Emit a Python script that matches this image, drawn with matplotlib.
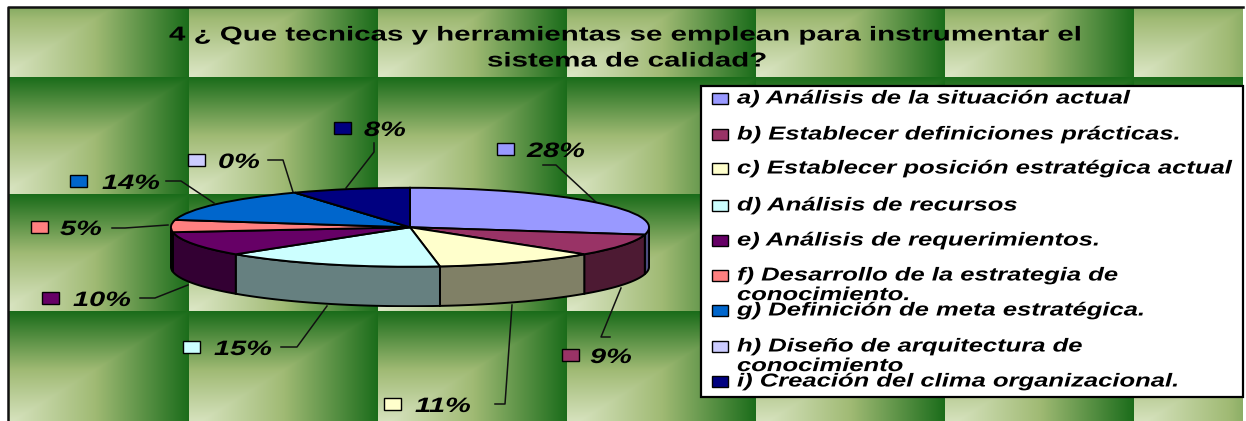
#!/usr/bin/env python3
import numpy as np
import matplotlib
matplotlib.use("Agg")
import matplotlib.pyplot as plt
from matplotlib.patches import Rectangle
from matplotlib.colors import to_rgb
from matplotlib.patheffects import AbstractPathEffect
from matplotlib.transforms import Affine2D

# chart data
title_lines = ["4 ¿ Que tecnicas y herramientas se emplean para instrumentar el",
               "sistema de calidad?"]
categories = ["a) Análisis de la situación actual",
              "b) Establecer definiciones prácticas.",
              "c) Establecer posición estratégica actual",
              "d) Análisis de recursos",
              "e) Análisis de requerimientos.",
              "f) Desarrollo de la estrategia de\nconocimiento.",
              "g) Definición de meta estratégica.",
              "h) Diseño de arquitectura de\nconocimiento",
              "i) Creación del clima organizacional."]
values = [28, 9, 11, 15, 10, 5, 14, 0, 8]
colors = ["#9999FF", "#993366", "#FFFFCC", "#CCFFFF", "#660066",
          "#FF8080", "#0066CC", "#CCCCFF", "#000080"]

W, H = 1246, 421
DPI = 100
FONT = "Liberation Sans"

# layout in pixels
cx, cy, rx, ry, depth = 410, 227, 240, 40, 40
legend_y = [98, 134, 168, 205, 240, 275, 310, 346, 381]
# swatch x, label x, label y
label_pos = [(497, 527, 149), (562, 590, 355), (384, 415, 404),
             (183, 214, 347), (42, 73, 298), (31, 60, 227),
             (70, 102, 181), (188, 218, 160), (334, 364, 128)]
leaders = [[(597, 203), (556, 165), (543, 165)],
           [(621, 288), (601, 337), (610, 337)],
           [(512, 305), (505, 404), (495, 404)],
           [(327, 306), (297, 347), (281, 347)],
           [(188, 285), (155, 298), (140, 298)],
           [(168, 225), (125, 228), (112, 228)],
           [(214, 203), (181, 181), (166, 181)],
           [(293, 192), (283, 160), (268, 160)],
           [(346, 188), (374, 152), (374, 143)]]


class WideText(AbstractPathEffect):
    """The reference stretches its text sideways, do the same from each line start"""

    def __init__(self, stretch):
        super().__init__()
        self.stretch = stretch

    def draw_path(self, renderer, gc, tpath, affine, rgbFace=None):
        m = affine.get_matrix().copy()
        m[0, :2] *= self.stretch
        renderer.draw_path(gc, tpath, Affine2D(m), rgbFace)


def natural_width(s, **kw):
    t = fig.text(0, 0, s, **kw)
    w = t.get_window_extent(fig.canvas.get_renderer()).width
    t.remove()
    return w


def tile_background():
    """Green tiles, each one a gradient running out from its lower left corner"""
    x0, y0, tw, th = 0, 77, 189, 117
    yy, xx = np.mgrid[0:H, 0:W]
    u = ((xx - x0) % tw) / tw
    v = 1 - ((yy - y0) % th) / th
    t = np.maximum(u, v)
    stops = np.array([[222, 232, 200], [160, 186, 116], [26, 108, 26]]) / 255
    return np.dstack([np.interp(t, [0, 0.5, 1], stops[:, i]) for i in range(3)])


fig = plt.figure(figsize=(W / DPI, H / DPI), dpi=DPI, facecolor="white")

ax = fig.add_axes([0, 0, 1, 1])
ax.set_xlim(0, W)
ax.set_ylim(H, 0)
ax.axis("off")
im = ax.imshow(tile_background(), extent=(0, W, H, 0), aspect="auto", zorder=0)
im.set_clip_path(Rectangle((8, 7), 1235, 416, transform=ax.transData))
# only the left and top sides of the frame show
ax.plot([8, 8, 1243], [H, 7, 7], color="#111111", lw=1.8, zorder=1)

title_style = dict(fontsize=14.5, fontweight="bold", family=FONT)
title_wide = WideText(913 / natural_width(title_lines[0], **title_style))
for line, x, y in zip(title_lines, [169, 487], [35, 61]):
    ax.text(x, y, line, ha="left", va="center", color="black", zorder=5,
            path_effects=[title_wide], **title_style)

# legend box
item_style = dict(fontsize=13.5, style="italic", fontweight="bold", family=FONT)
legend_wide = WideText(393 / natural_width(categories[0], **item_style))
ax.add_patch(Rectangle((701, 86), 542, 311, fc="white", ec="black", lw=1.6, zorder=2))
for name, color, y in zip(categories, colors, legend_y):
    ax.add_patch(Rectangle((712, y - 5.5), 16, 11, fc=color, ec="black", lw=1, zorder=3))
    ax.text(737, y - 7.5, name, ha="left", va="top", linespacing=1.2, zorder=5,
            path_effects=[legend_wide], **item_style)

# pie, squashed into an ellipse, the axes also holds the rim below it
pie_ax = fig.add_axes([(cx - rx) / W, 1 - (cy + ry + depth) / H,
                       2 * rx / W, (2 * ry + depth) / H])
pie_ax.patch.set_alpha(0)
pie_ax.pie(values, colors=colors, startangle=90, counterclock=False, radius=1,
           wedgeprops=dict(edgecolor="black", linewidth=1.4, zorder=3))
pie_ax.set_aspect("auto")
pie_ax.set_xlim(-1.004, 1.004)
pie_ax.set_ylim(-1 - depth / ry - 0.02, 1.02)

drop = depth / ry
edges = np.cumsum([0] + values) / sum(values) * 2 * np.pi
for val, color, a0, a1 in zip(values, colors, edges[:-1], edges[1:]):
    a0, a1 = max(a0, np.pi / 2), min(a1, 3 * np.pi / 2)
    if val == 0 or a1 <= a0:
        continue
    ang = np.linspace(a0, a1, 60)
    xs, ys = np.sin(ang), np.cos(ang)
    wall = tuple(c * 0.5 for c in to_rgb(color))
    pie_ax.fill(np.r_[xs, xs[::-1]], np.r_[ys, ys[::-1] - drop],
                fc=wall, ec="black", lw=1.4, zorder=2)

# data labels with swatch and leader line
label_style = dict(fontsize=15, style="italic", fontweight="bold", family=FONT)
label_wide = WideText(58 / natural_width("28%", **label_style))
for val, color, (sx, tx, ty), pts in zip(values, colors, label_pos, leaders):
    ax.add_patch(Rectangle((sx, ty - 6), 17, 12, fc=color, ec="black", lw=1, zorder=3))
    ax.text(tx, ty + 2.5, f"{val}%", ha="left", va="center", zorder=5,
            path_effects=[label_wide], **label_style)
    ax.plot(*zip(*pts), color="#111111", lw=1.1, zorder=1.5)

fig.savefig("out.png", dpi=DPI, facecolor="white")
